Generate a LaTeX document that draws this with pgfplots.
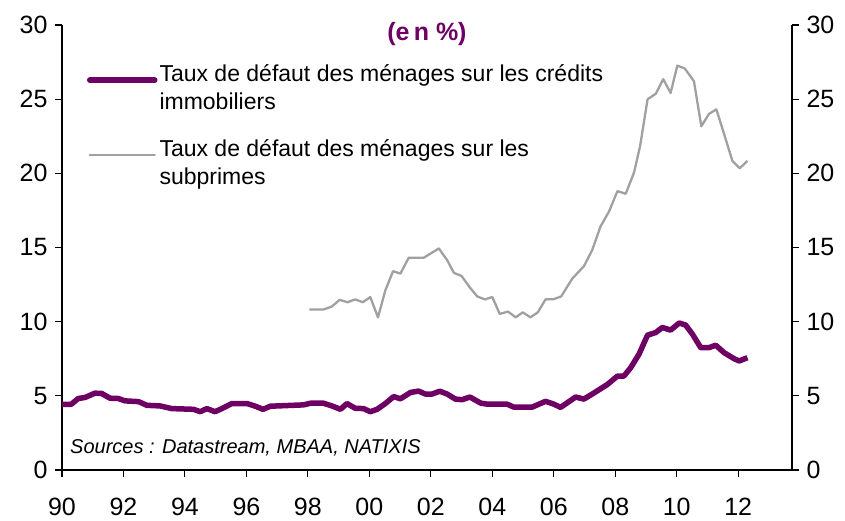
\documentclass[border=0pt]{standalone}
\usepackage{fontspec}
\setmainfont{Liberation Sans}
\usepackage{pgfplots}
\pgfplotsset{compat=1.18}
\definecolor{mpurple}{RGB}{110,0,100}
\definecolor{mgray}{RGB}{160,160,160}
\begin{document}
\begin{tikzpicture}
\begin{axis}[
  name=main,
  scale only axis, width=730pt, height=445pt,
  xmin=1990, xmax=2013.75, ymin=0, ymax=30,
  axis x line*=bottom, axis y line*=left,
  axis line style={-, line width=1.1pt, black},
  tick align=outside, major tick length=7pt,
  every tick/.style={black, line width=1.1pt},
  xtick={1990,1992,...,2012},
  xticklabels={90,92,94,96,98,00,02,04,06,08,10,12},
  ytick={0,5,...,30},
  /pgf/number format/assume math mode=true,
  tick label style={font=\fontsize{25}{25}\selectfont},
  xticklabel style={yshift=-18pt},
  yticklabel style={xshift=-4pt},
  clip=false,
  legend style={draw=none, fill=none, at={(0.034,0.915)}, anchor=north west,
    cells={anchor=west, align=left}, font=\fontsize{23}{28}\selectfont,
    row sep=24pt, inner sep=0pt},
  legend image code/.code={\draw[#1, line cap=round] (0pt,8pt) -- (65pt,8pt);},
]
\addplot[mpurple, line width=5.5pt, line join=round] coordinates {
(1990.0,4.43) (1990.3,4.43) (1990.53,4.82) (1990.75,4.89) (1991.07,5.18)
(1991.29,5.16) (1991.56,4.84) (1991.83,4.82) (1992.05,4.66) (1992.49,4.61)
(1992.76,4.36) (1993.19,4.32) (1993.57,4.14) (1994.28,4.09) (1994.5,3.93)
(1994.71,4.14) (1994.98,3.93) (1995.2,4.14) (1995.53,4.48) (1996.02,4.48)
(1996.29,4.30) (1996.54,4.09) (1996.78,4.30) (1997.86,4.39) (1998.08,4.50)
(1998.51,4.50) (1998.78,4.32) (1999.06,4.09) (1999.27,4.48) (1999.54,4.16)
(1999.81,4.14) (2000.03,3.93) (2000.25,4.09) (2000.52,4.48) (2000.79,4.95)
(2001.01,4.80) (2001.34,5.23) (2001.6,5.32) (2001.82,5.12) (2002.04,5.12)
(2002.29,5.31) (2002.53,5.12) (2002.8,4.78) (2003.02,4.74) (2003.27,4.92)
(2003.62,4.51) (2003.83,4.44) (2004.48,4.44) (2004.7,4.24) (2005.3,4.24)
(2005.73,4.63) (2006.0,4.44) (2006.22,4.22) (2006.71,4.92) (2006.98,4.78)
(2007.25,5.12) (2007.74,5.76) (2008.07,6.33) (2008.28,6.33) (2008.5,6.89)
(2008.77,7.80) (2009.05,9.09) (2009.32,9.27) (2009.53,9.61) (2009.8,9.43)
(2010.08,9.91) (2010.29,9.77) (2010.51,9.16) (2010.78,8.25) (2011.05,8.25)
(2011.27,8.41) (2011.54,7.91) (2011.87,7.50) (2012.03,7.35) (2012.3,7.57)
};
\addlegendentry{Taux de défaut des ménages sur les crédits\\immobiliers}
\addplot[mgray, line width=2.3pt, line join=round] coordinates {
(1998.05,10.82) (1998.51,10.82) (1998.78,11.02) (1999.03,11.47) (1999.29,11.31)
(1999.54,11.50) (1999.79,11.31) (2000.03,11.66) (2000.28,10.29) (2000.52,12.11)
(2000.77,13.40) (2001.01,13.24) (2001.28,14.31) (2001.77,14.31) (2002.26,14.94)
(2002.53,14.15) (2002.75,13.29) (2003.0,13.08) (2003.26,12.33) (2003.51,11.70)
(2003.76,11.50) (2004.0,11.66) (2004.24,10.52) (2004.51,10.68) (2004.76,10.29)
(2004.99,10.63) (2005.24,10.29) (2005.48,10.63) (2005.73,11.50) (2006.0,11.52)
(2006.24,11.70) (2006.6,12.90) (2006.98,13.74) (2007.25,14.83) (2007.52,16.42)
(2007.8,17.44) (2008.07,18.80) (2008.34,18.62) (2008.61,20.05) (2008.81,21.86)
(2009.05,24.99) (2009.32,25.37) (2009.56,26.35) (2009.8,25.42) (2010.02,27.26)
(2010.26,27.07) (2010.56,26.21) (2010.8,23.17) (2011.05,24.01) (2011.29,24.31)
(2011.54,22.65) (2011.81,20.84) (2012.05,20.34) (2012.3,20.84)
};
\addlegendentry{Taux de défaut des ménages sur les\\subprimes}
\node[font=\bfseries\fontsize{25}{25}\selectfont, text=mpurple] at (rel axis cs:0.5,0.98) {(e\,n \%)};
\node[anchor=base west, font=\itshape\fontsize{20}{20}\selectfont, inner sep=0pt] at (rel axis cs:0.011,0.038) {Sources : Datastream, MBAA, NATIXIS};
\end{axis}
\begin{axis}[
  scale only axis, width=730pt, height=445pt,
  xmin=1990, xmax=2013.75, ymin=0, ymax=30,
  axis x line=none, axis y line*=right,
  axis line style={-, line width=1.1pt, black},
  tick align=outside, major tick length=7pt,
  every tick/.style={black, line width=1.1pt},
  ytick={0,5,...,30},
  /pgf/number format/assume math mode=true,
  tick label style={font=\fontsize{25}{25}\selectfont},
  yticklabel style={xshift=4pt},
]
\end{axis}
\pgfresetboundingbox
\path (main.south west) ++(-62pt,-51pt) rectangle ++(845pt,521pt);
\end{tikzpicture}
\end{document}
